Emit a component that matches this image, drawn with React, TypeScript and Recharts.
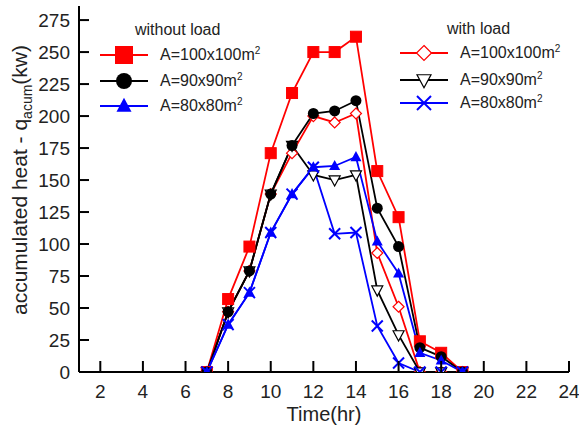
import React from 'react';
import { LineChart, Line, XAxis, YAxis } from 'recharts';

const hours = [7, 8, 9, 10, 11, 12, 13, 14, 15, 16, 17, 18, 19];

// without load
const noLoad100 = [0, 57, 98, 171, 218, 250, 250, 262, 157, 121, 24, 15, 0];
const noLoad90 = [0, 47, 79, 139, 177, 202, 204, 212, 128, 98, 19, 12, 0];
const noLoad80 = [0, 37, 62, 109, 139, 160, 161, 168, 102, 77, 15, 9, 0];

// with load
const load100 = [0, 47, 79, 139, 171, 200, 195, 202, 93, 51, 0, 0, 0];
const load90 = [0, 47, 79, 139, 177, 154, 150, 154, 64, 29, 0, 0, 0];
const load80 = [0, 37, 62, 109, 139, 160, 108, 109, 36, 7, 0, 0, 0];

const xTicks = [2, 4, 6, 8, 10, 12, 14, 16, 18, 20, 22, 24];
const yTicks = [0, 25, 50, 75, 100, 125, 150, 175, 200, 225, 250, 275];

const RED = '#ff0000';
const BLUE = '#0000ff';
const BLACK = '#000000';
const FONT = '"Liberation Sans", Arial, sans-serif';

type Kind = 'square' | 'circle' | 'triangle' | 'diamond' | 'invtri' | 'cross';

const data = hours.map((h, i) => ({
  h,
  nl100: noLoad100[i],
  nl90: noLoad90[i],
  nl80: noLoad80[i],
  l100: load100[i],
  l90: load90[i],
  l80: load80[i],
}));

function Marker({ cx, cy, kind, size }: { cx: number; cy: number; kind: Kind; size: number }) {
  const r = size / 2;
  switch (kind) {
    case 'square':
      return <rect x={cx - r} y={cy - r} width={size} height={size} fill={RED} stroke={RED} />;
    case 'circle':
      return <circle cx={cx} cy={cy} r={r} fill={BLACK} />;
    case 'triangle':
      return (
        <polygon
          points={`${cx},${cy - r * 1.1} ${cx + r},${cy + r * 0.75} ${cx - r},${cy + r * 0.75}`}
          fill={BLUE}
        />
      );
    case 'diamond':
      return (
        <polygon
          points={`${cx},${cy - r} ${cx + r},${cy} ${cx},${cy + r} ${cx - r},${cy}`}
          fill="#fff"
          stroke={RED}
          strokeWidth={1.2}
        />
      );
    case 'invtri':
      return (
        <polygon
          points={`${cx - r},${cy - r * 0.75} ${cx + r},${cy - r * 0.75} ${cx},${cy + r * 1.1}`}
          fill="#fff"
          stroke={BLACK}
          strokeWidth={1.2}
        />
      );
    default:
      return (
        <g stroke={BLUE} strokeWidth={2}>
          <line x1={cx - r} y1={cy - r} x2={cx + r} y2={cy + r} />
          <line x1={cx - r} y1={cy + r} x2={cx + r} y2={cy - r} />
        </g>
      );
  }
}

const noLoadSeries: { key: string; color: string; kind: Kind; label: string }[] = [
  { key: 'nl100', color: RED, kind: 'square', label: '100x100' },
  { key: 'nl90', color: BLACK, kind: 'circle', label: '90x90' },
  { key: 'nl80', color: BLUE, kind: 'triangle', label: '80x80' },
];
const loadSeries: { key: string; color: string; kind: Kind; label: string }[] = [
  { key: 'l100', color: RED, kind: 'diamond', label: '100x100' },
  { key: 'l90', color: BLACK, kind: 'invtri', label: '90x90' },
  { key: 'l80', color: BLUE, kind: 'cross', label: '80x80' },
];

// hollow with-load markers sit under the filled ones, crosses on top
const drawOrder = [loadSeries[0], loadSeries[1], ...noLoadSeries, loadSeries[2]];

const legendSize: Record<Kind, number> = {
  square: 17,
  circle: 16,
  triangle: 15,
  diamond: 15,
  invtri: 14,
  cross: 14,
};

function XTick({ x, y, payload }: any) {
  return (
    <g>
      <line x1={x} y1={y} x2={x} y2={y - 11} stroke={BLACK} strokeWidth={2} />
      <text x={x} y={y + 26} textAnchor="middle" fontSize={19} fill="#222" fontFamily={FONT}>
        {payload.value}
      </text>
    </g>
  );
}

function YTick({ x, y, payload }: any) {
  return (
    <g>
      {payload.value !== 0 && <line x1={x} y1={y} x2={x + 10} y2={y} stroke={BLACK} strokeWidth={2} />}
      <text x={x - 9} y={y + 7} textAnchor="end" fontSize={19} fill="#222" fontFamily={FONT}>
        {payload.value}
      </text>
    </g>
  );
}

function YTitle() {
  return (
    <text
      transform="translate(27,180) rotate(-90)"
      textAnchor="middle"
      fontSize={21}
      fill="#222"
      fontFamily={FONT}
    >
      accumulated heat - q
      <tspan fontSize={14} dy={5}>acum</tspan>
      <tspan dy={-5}>(kw)</tspan>
    </text>
  );
}

function LegendBlock({
  title,
  titleLeft,
  lineLeft,
  top,
  rows,
  items,
}: {
  title: string;
  titleLeft: number;
  lineLeft: number;
  top: number;
  rows: number[];
  items: typeof noLoadSeries;
}) {
  return (
    <>
      <div style={{ position: 'absolute', left: titleLeft, top: top - 11, fontSize: 16, lineHeight: '20px', color: '#222' }}>
        {title}
      </div>
      {items.map((s, i) => (
        <div key={s.key} style={{ position: 'absolute', left: lineLeft, top: rows[i] - 12, height: 24, display: 'flex', alignItems: 'center' }}>
          <svg width={50} height={24}>
            <line x1={0} y1={12} x2={48} y2={12} stroke={s.color} strokeWidth={2} />
            <Marker cx={24} cy={12} kind={s.kind} size={legendSize[s.kind]} />
          </svg>
          <span style={{ marginLeft: 10, fontSize: 16, color: '#222' }}>
            A={s.label}m<sup style={{ fontSize: 10, verticalAlign: 'top', lineHeight: '10px' }}>2</sup>
          </span>
        </div>
      ))}
    </>
  );
}

export default function App() {
  return (
    <div style={{ position: 'absolute', left: 0, top: 0, width: 579, height: 433, background: '#fff', fontFamily: FONT }}>
      <LineChart width={579} height={433} data={data} margin={{ top: 6, right: 10, left: 0, bottom: 0 }}>
        <XAxis
          dataKey="h"
          type="number"
          domain={[1, 24]}
          ticks={xTicks}
          allowDataOverflow
          height={61}
          tickSize={0}
          tickMargin={0}
          tickLine={false}
          axisLine={{ stroke: BLACK, strokeWidth: 2 }}
          tick={<XTick />}
          label={{ value: 'Time(hr)', position: 'insideBottom', offset: 12, fontSize: 20, fill: '#222', fontFamily: FONT }}
        />
        <XAxis xAxisId="top" dataKey="h" type="number" domain={[1, 24]} orientation="top" height={0} tick={false} tickLine={false} axisLine={{ stroke: BLACK, strokeWidth: 2 }} />
        <YAxis
          type="number"
          domain={[0, 286]}
          ticks={yTicks}
          allowDataOverflow
          width={79}
          tickSize={0}
          tickMargin={0}
          tickLine={false}
          axisLine={{ stroke: BLACK, strokeWidth: 2 }}
          tick={<YTick />}
          label={{ content: () => <YTitle /> }}
        />
        <YAxis yAxisId="right" orientation="right" domain={[0, 286]} width={0} tick={false} tickLine={false} axisLine={{ stroke: BLACK, strokeWidth: 2 }} />
        {drawOrder.map((s) => (
          <Line
            key={s.key}
            dataKey={s.key}
            stroke={s.color}
            strokeWidth={1.8}
            isAnimationActive={false}
            dot={(p: any) => <Marker key={`${s.key}-${p.index}`} cx={p.cx} cy={p.cy} kind={s.kind} size={11} />}
            activeDot={false}
          />
        ))}
      </LineChart>
      <LegendBlock title="without load" titleLeft={135} lineLeft={100} top={31} rows={[55, 81, 106]} items={noLoadSeries} />
      <LegendBlock title="with load" titleLeft={447} lineLeft={400} top={30} rows={[53, 80, 103]} items={loadSeries} />
    </div>
  );
}
